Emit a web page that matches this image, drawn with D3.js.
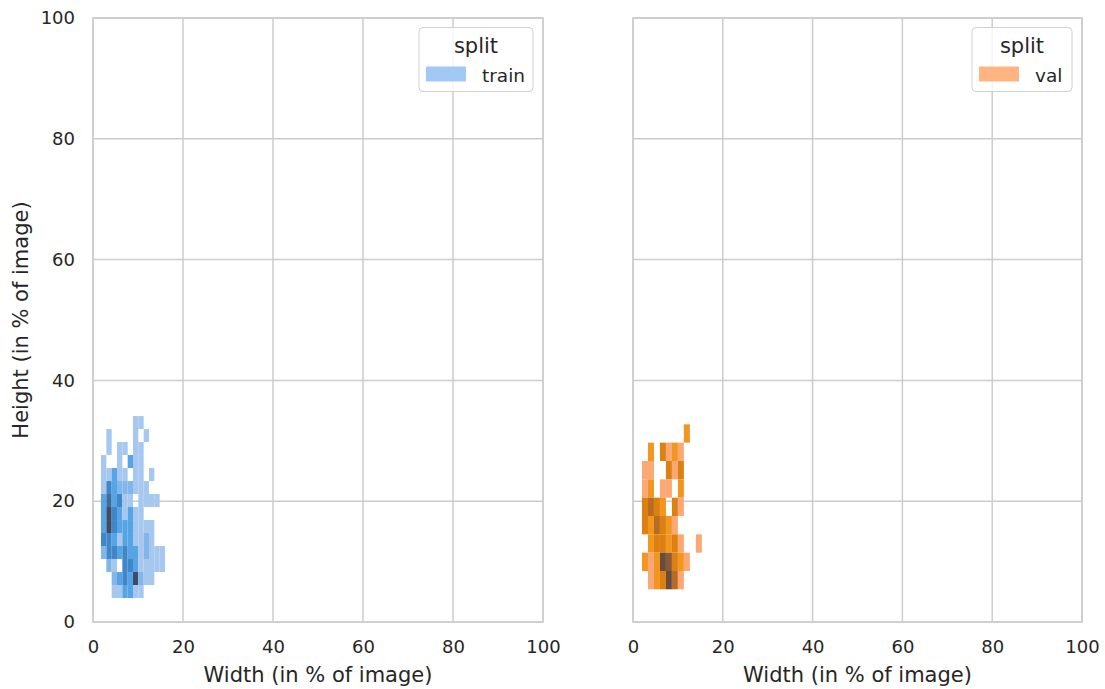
<!DOCTYPE html>
<html><head><meta charset="utf-8">
<script src="https://cdn.jsdelivr.net/npm/d3@7"></script>
<style>
body{margin:0;background:#fff}
text{font-family:"DejaVu Sans",sans-serif;fill:#262626}
</style>
</head><body><svg id="c" width="1105" height="689"></svg>
<script>
// ---- data ----
const xTicks = [0, 20, 40, 60, 80, 100];
const yTicks = [0, 20, 40, 60, 80, 100];
const splits = ["train", "val"];
const legendColors = ["#a1c9f4", "#ffb482"];
const xLabel = "Width (in % of image)";
const yLabel = "Height (in % of image)";

// bin edges (in % of image)
const trainBinX0 = 1.78, trainBinW = 1.185, trainBinY0 = 3.97, trainBinH = 2.152;
const valBinX0 = 2.0, valBinW = 1.333, valBinY0 = 5.41, valBinH = 3.035;

// [column index, row index, count level]
const trainCells = [
  [6,13,1],[7,13,1],
  [1,12,1],[6,12,1],[8,12,1],
  [1,11,1],[3,11,1],[4,11,1],[6,11,1],[7,11,1],
  [0,10,1],[3,10,1],[5,10,3],[6,10,1],[7,10,1],
  [0,9,1],[1,9,1],[2,9,3],[3,9,1],[4,9,1],[6,9,1],[7,9,1],[9,9,1],
  [0,8,1],[1,8,4],[2,8,3],[3,8,2],[4,8,2],[5,8,2],[6,8,1],[7,8,1],[8,8,1],
  [0,7,3],[1,7,5],[2,7,3],[3,7,4],[4,7,1],[5,7,1],[7,7,1],[8,7,1],[9,7,1],[10,7,1],
  [0,6,3],[1,6,6],[2,6,4],[3,6,3],[4,6,1],[5,6,3],[6,6,1],[7,6,1],
  [0,5,3],[1,5,6],[2,5,4],[3,5,3],[4,5,3],[5,5,3],[6,5,1],[7,5,1],[8,5,1],[9,5,1],
  [0,4,4],[1,4,4],[2,4,3],[3,4,1],[4,4,3],[5,4,3],[6,4,1],[7,4,1],[8,4,2],[9,4,1],
  [0,3,2],[1,3,4],[2,3,4],[3,3,3],[4,3,4],[5,3,3],[6,3,3],[7,3,1],[8,3,2],[9,3,1],[10,3,1],[11,3,1],
  [1,2,2],[2,2,1],[4,2,4],[5,2,4],[6,2,3],[7,2,1],[8,2,1],[9,2,1],[10,2,1],[11,2,1],
  [2,1,2],[3,1,3],[4,1,4],[5,1,3],[6,1,6],[7,1,2],[8,1,1],[9,1,1],
  [2,0,1],[3,0,1],[4,0,3],[5,0,3],[6,0,1],[7,0,1]
];
const valCells = [
  [7,8,2],
  [1,7,2],[3,7,3],[4,7,1],[5,7,2],[6,7,1],
  [0,6,1],[1,6,1],[4,6,3],[5,6,1],[6,6,3],
  [0,5,1],[1,5,2],[3,5,1],[4,5,1],[6,5,2],
  [0,4,3],[1,4,4],[2,4,3],[3,4,2],[5,4,3],[6,4,1],
  [0,3,3],[1,3,2],[2,3,4],[3,3,3],[4,3,2],[5,3,1],
  [1,2,2],[2,2,3],[3,2,3],[4,2,2],[5,2,3],[6,2,1],[9,2,1],
  [0,1,2],[1,1,1],[2,1,2],[3,1,6],[4,1,5],[5,1,3],[6,1,2],[7,1,1],
  [1,0,1],[2,0,2],[3,0,3],[4,0,6],[5,0,4],[6,0,1]
];
const countLevels = [1, 2, 3, 4, 5, 6];
const blueRamp = ["#a6c8ef", "#80b6ea", "#56a4e6", "#3f87c9", "#3f6b9e", "#3e4c66"];
const orangeRamp = ["#fba874", "#f2961f", "#dc800f", "#b86c22", "#8a5a36", "#6a4b3c"];

// ---- drawing ----
const svg = d3.select("#c");
const gridColor = "#cccccc";
const panels = [
  {x0: 93, x1: 543, cells: trainCells, bx0: trainBinX0, bw: trainBinW, by0: trainBinY0, bh: trainBinH, ramp: blueRamp, name: splits[0], lc: legendColors[0], showY: true},
  {x0: 633, x1: 1082, cells: valCells, bx0: valBinX0, bw: valBinW, by0: valBinY0, bh: valBinH, ramp: orangeRamp, name: splits[1], lc: legendColors[1], showY: false}
];
const yScale = d3.scaleLinear().domain([0, 100]).range([622, 18]);

panels.forEach((p, i) => {
  const xScale = d3.scaleLinear().domain([0, 100]).range([p.x0, p.x1]);
  const color = d3.scaleLinear().domain(countLevels).range(p.ramp);
  const g = svg.append("g");

  // grid
  g.selectAll(".gx").data(xTicks).join("line")
    .attr("x1", d => xScale(d)).attr("x2", d => xScale(d))
    .attr("y1", yScale(0)).attr("y2", yScale(100))
    .attr("stroke", gridColor).attr("stroke-width", 1.5);
  g.selectAll(".gy").data(yTicks).join("line")
    .attr("x1", xScale(0)).attr("x2", xScale(100))
    .attr("y1", d => yScale(d)).attr("y2", d => yScale(d))
    .attr("stroke", gridColor).attr("stroke-width", 1.5);

  // cells
  g.selectAll("rect.cell").data(p.cells).join("rect").attr("class", "cell")
    .attr("x", d => xScale(p.bx0 + d[0] * p.bw))
    .attr("width", d => xScale(p.bx0 + (d[0] + 1) * p.bw) - xScale(p.bx0 + d[0] * p.bw))
    .attr("y", d => yScale(p.by0 + (d[1] + 1) * p.bh))
    .attr("height", d => yScale(p.by0 + d[1] * p.bh) - yScale(p.by0 + (d[1] + 1) * p.bh))
    .attr("fill", d => color(d[2]));

  // spines
  g.append("rect").attr("x", xScale(0)).attr("y", yScale(100))
    .attr("width", xScale(100) - xScale(0)).attr("height", yScale(0) - yScale(100))
    .attr("fill", "none").attr("stroke", gridColor).attr("stroke-width", 1.5);

  // x axis
  const xa = g.append("g").attr("transform", `translate(0,${yScale(0)})`)
    .call(d3.axisBottom(xScale).tickValues(xTicks).tickSize(0).tickPadding(18));
  xa.select(".domain").remove();
  xa.selectAll("text").style("font-size", "18px").attr("fill", "#262626");
  g.append("text").attr("x", (p.x0 + p.x1) / 2).attr("y", 682)
    .attr("text-anchor", "middle").style("font-size", "21px").text(xLabel);

  if (p.showY) {
    const ya = g.append("g").attr("transform", `translate(${xScale(0)},0)`)
      .call(d3.axisLeft(yScale).tickValues(yTicks).tickSize(0).tickPadding(18));
    ya.select(".domain").remove();
    ya.selectAll("text").style("font-size", "18px").attr("fill", "#262626");
    g.append("text").attr("transform", `translate(28,${yScale(50)}) rotate(-90)`)
      .attr("text-anchor", "middle").style("font-size", "21px").text(yLabel);
  }

  // legend
  const lw = i === 0 ? 114 : 100;
  const lx = p.x1 - 10 - lw, ly = 27.5;
  const lg = g.append("g").attr("transform", `translate(${lx},${ly})`);
  lg.append("rect").attr("width", lw).attr("height", 64).attr("rx", 4)
    .attr("fill", "#fff").attr("fill-opacity", 0.8).attr("stroke", "#d0d0d0").attr("stroke-width", 1);
  lg.append("text").attr("x", lw / 2).attr("y", 25).attr("text-anchor", "middle")
    .style("font-size", "21px").text("split");
  lg.append("rect").attr("x", 7).attr("y", 39).attr("width", 40).attr("height", 15).attr("fill", p.lc);
  lg.append("text").attr("x", 63).attr("y", 54).style("font-size", "18.5px").text(p.name);
});
</script>
</body></html>
